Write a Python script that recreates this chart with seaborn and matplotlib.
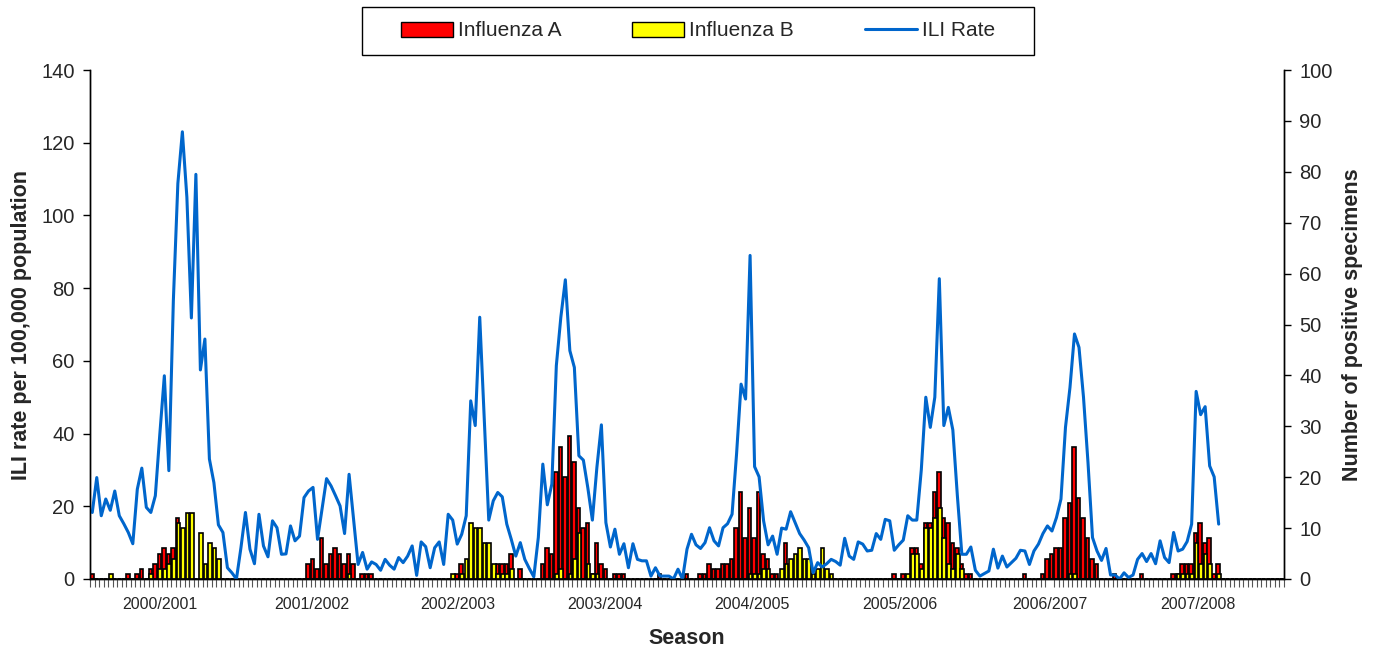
import numpy as np
import matplotlib
matplotlib.use("Agg")
import matplotlib.pyplot as plt
import seaborn as sns
from matplotlib.patches import Patch, Rectangle
from matplotlib.lines import Line2D

seasons = ["2000/2001", "2001/2002", "2002/2003", "2003/2004",
           "2004/2005", "2005/2006", "2006/2007", "2007/2008"]
# week index (0 = first week shown) under which each season name sits
season_label_week = [15.0, 48.8, 81.2, 113.8, 146.4, 179.3, 212.5, 245.4]

# weekly ILI rate per 100,000 (week 40 -> week 20 of each season)
ili_2000_01 = [18.3, 27.9, 17.4, 22.0, 18.9, 24.2, 17.4, 15.2, 12.8, 9.7, 24.7, 30.5, 19.7, 18.3, 22.9, 39.9, 55.9,
               29.8, 76.6, 108.8, 123.0, 105.0, 71.8, 111.3, 57.5, 66.0, 33.0, 26.5, 14.9, 12.8, 3.1, 1.7, 0.0]
ili_2001_02 = [8.6, 18.3, 8.2, 4.2, 17.8, 9.1, 6.1, 16.0, 14.1, 6.8, 6.9, 14.6, 10.5, 11.8, 22.4, 24.2, 25.2,
               10.9, 19.2, 27.6, 25.6, 22.9, 20.1, 12.5, 28.8, 16.4, 4.0, 7.3, 2.7, 4.7, 4.0, 2.4, 5.4]
ili_2002_03 = [3.8, 2.7, 5.9, 4.5, 6.3, 9.1, 1.0, 10.2, 8.9, 3.1, 8.6, 10.2, 4.0, 17.8, 16.2, 9.6, 12.3,
               17.4, 49.0, 42.2, 72.0, 44.0, 16.2, 21.5, 23.8, 22.6, 15.1, 10.9, 6.3, 10.0, 5.4, 2.9, 0.6]
ili_2003_04 = [11.4, 31.6, 20.4, 26.1, 58.7, 72.0, 82.3, 62.8, 58.2, 33.9, 32.7, 25.0, 16.2, 30.7, 42.4, 15.5, 8.8,
               13.7, 6.8, 9.7, 3.1, 9.7, 5.4, 5.0, 5.0, 0.8, 3.1, 0.8, 0.8, 0.8, 0.0, 2.7, 0.0]
ili_2004_05 = [8.2, 12.3, 9.4, 8.4, 10.0, 14.1, 10.5, 9.1, 14.1, 15.2, 17.8, 34.4, 53.6, 49.5, 89.0, 30.9, 28.1,
               16.0, 9.4, 11.8, 6.8, 14.0, 13.7, 18.5, 15.5, 12.5, 10.7, 8.6, 1.7, 4.5, 3.3, 4.2, 5.4, 4.8]
ili_2005_06 = [3.8, 11.2, 6.3, 5.4, 10.2, 9.6, 7.7, 7.9, 12.5, 10.9, 16.4, 16.0, 7.9, 9.4, 10.7, 17.4, 16.2,
               16.2, 30.0, 50.0, 41.7, 50.0, 82.6, 42.2, 47.2, 41.0, 23.0, 6.8, 6.8, 8.8, 2.4, 0.8, 1.5]
ili_2006_07 = [2.2, 8.2, 3.0, 6.3, 3.3, 4.5, 5.7, 7.9, 7.7, 4.0, 7.7, 9.6, 12.5, 14.6, 13.2, 16.9, 22.0,
               41.7, 52.7, 67.4, 63.7, 50.0, 32.0, 11.4, 7.7, 5.1, 8.4, 1.1, 1.1, 0.0, 1.7, 0.4, 1.1]
ili_2007_08 = [5.4, 7.0, 4.8, 7.0, 4.2, 10.5, 5.9, 4.5, 12.8, 7.7, 8.2, 10.3, 15.1, 51.6, 45.2, 47.4, 31.1,
               28.1, 15.1]

# positive specimens, Influenza A
flu_a_2000_01 = [1, 0, 0, 0, 0, 0, 0, 0, 1, 0, 1, 2, 0, 2, 3, 5, 6, 5, 6, 12, 0, 0, 0, 0, 0, 0, 0, 0, 0, 0, 0, 0, 0]
flu_a_2001_02 = [0, 0, 0, 0, 0, 0, 0, 0, 0, 0, 0, 0, 0, 0, 0, 3, 4, 2, 8, 3, 5, 6, 5, 3, 5, 3, 0, 1, 1, 1, 0, 0, 0]
flu_a_2002_03 = [0, 0, 0, 0, 0, 0, 0, 0, 0, 0, 0, 0, 0, 0, 0, 1, 3, 0, 0, 0, 0, 0, 0, 0, 3, 3, 3, 5, 0, 2, 0, 0, 0]
flu_a_2003_04 = [0, 3, 6, 5, 21, 26, 20, 28, 23, 14, 10, 11, 1, 7, 3, 2, 0, 1, 1, 1, 0, 0, 0, 0, 0, 0, 0, 1, 0, 0,
                 0, 0, 0]
flu_a_2004_05 = [1, 0, 0, 1, 1, 3, 2, 2, 3, 3, 4, 10, 17, 8, 14, 8, 17, 5, 4, 1, 1, 0, 7, 0, 0, 0, 0, 0, 0, 0,
                 0, 0, 0, 0]
flu_a_2005_06 = [0, 0, 0, 0, 0, 0, 0, 0, 0, 0, 0, 0, 1, 0, 1, 0, 6, 6, 3, 11, 11, 17, 21, 12, 11, 7, 6, 3, 1, 1,
                 0, 0, 0]
flu_a_2006_07 = [0, 0, 0, 0, 0, 0, 0, 0, 1, 0, 0, 0, 1, 4, 5, 6, 6, 12, 15, 26, 16, 12, 8, 4, 3, 0, 0, 0, 1, 0,
                 0, 0, 0]
flu_a_2007_08 = [0, 1, 0, 0, 0, 0, 0, 0, 1, 1, 3, 3, 3, 9, 11, 7, 8, 1, 3, 0, 0, 0, 0, 0, 0, 0, 0, 0, 0, 0, 0, 0, 0]

# positive specimens, Influenza B
flu_b_2000_01 = [0, 0, 0, 0, 1, 0, 0, 0, 0, 0, 0, 0, 0, 1, 0, 2, 2, 3, 4, 11, 10, 13, 13, 0, 9, 3, 7, 6, 4, 0, 0,
                 0, 0]
flu_b_2001_02 = [0, 0, 0, 0, 0, 0, 0, 0, 0, 0, 0, 0, 0, 0, 0, 0, 0, 0, 0, 0, 0, 0, 0, 0, 1, 0, 0, 0, 0, 0, 0, 0, 0]
flu_b_2002_03 = [0, 0, 0, 0, 0, 0, 0, 0, 0, 0, 0, 0, 0, 0, 1, 0, 1, 4, 11, 10, 10, 7, 7, 3, 1, 1, 1, 2, 0, 0, 0,
                 0, 0]
flu_b_2003_04 = [0, 0, 0, 0, 1, 2, 0, 1, 4, 9, 0, 3, 1, 1, 0, 0, 0, 0, 0, 0, 0, 0, 0, 0, 0, 0, 0, 0, 0, 0, 0, 0, 0]
flu_b_2004_05 = [0, 0, 0, 0, 0, 0, 0, 0, 0, 0, 0, 0, 0, 0, 1, 1, 1, 2, 2, 0, 0, 2, 3, 4, 5, 6, 4, 4, 1, 2, 6, 2,
                 1, 0]
flu_b_2005_06 = [0, 0, 0, 0, 0, 0, 0, 0, 0, 0, 0, 0, 0, 0, 0, 1, 5, 5, 2, 10, 10, 12, 14, 8, 3, 2, 5, 2, 0, 0, 0,
                 0, 0]
flu_b_2006_07 = [0, 0, 0, 0, 0, 0, 0, 0, 0, 0, 0, 0, 0, 0, 0, 0, 0, 0, 1, 1, 0, 0, 0, 0, 0, 0, 0, 0, 0, 0, 0, 0, 0]
flu_b_2007_08 = [0, 0, 0, 0, 0, 0, 0, 0, 0, 1, 1, 1, 1, 7, 3, 5, 3, 0, 1, 0, 0, 0, 0, 0, 0, 0, 0, 0, 0, 0, 0, 0, 0]

ili_rate = [ili_2000_01, ili_2001_02, ili_2002_03, ili_2003_04,
            ili_2004_05, ili_2005_06, ili_2006_07, ili_2007_08]
flu_a = [flu_a_2000_01, flu_a_2001_02, flu_a_2002_03, flu_a_2003_04,
         flu_a_2004_05, flu_a_2005_06, flu_a_2006_07, flu_a_2007_08]
flu_b = [flu_b_2000_01, flu_b_2001_02, flu_b_2002_03, flu_b_2003_04,
         flu_b_2004_05, flu_b_2005_06, flu_b_2006_07, flu_b_2007_08]

n_weeks = sum(len(s) for s in flu_a)
weeks = np.arange(n_weeks)

a_all = np.concatenate(flu_a)
b_all = np.concatenate(flu_b)
ili_all = np.concatenate(ili_rate)
ili_weeks = weeks[:len(ili_all)]

sns.set_style("ticks")
plt.rcParams['font.family'] = ['Liberation Sans', 'DejaVu Sans']

W, H = 1379, 650
fig = plt.figure(figsize=(W / 100, H / 100), dpi=100)
ax1 = fig.add_axes([90 / W, 1 - 579 / H, 1194 / W, 509 / H])
ax2 = ax1.twinx()

# columns (right axis): A behind, B in front, partly overlapped
sns.barplot(x=weeks - 0.1, y=a_all, native_scale=True, width=0.8, color="#FF0000", saturation=1,
            edgecolor="black", linewidth=1.2, errorbar=None, ax=ax2)
sns.barplot(x=weeks + 0.1, y=b_all, native_scale=True, width=0.8, color="#FFFF00", saturation=1,
            edgecolor="black", linewidth=1.2, errorbar=None, ax=ax2)

# ILI line (left axis), drawn on top of the columns
sns.lineplot(x=ili_weeks, y=ili_all, color="#0066CC", linewidth=2.2, errorbar=None, ax=ax1)
ax1.set_zorder(ax2.get_zorder() + 1)
ax1.patch.set_visible(False)

ax1.set_xlim(-0.5, n_weeks - 0.5)
ax1.set_ylim(0, 140)
ax1.set_yticks(range(0, 141, 20))
ax2.set_ylim(0, 100)
ax2.set_yticks(range(0, 101, 10))

ax1.set_xticks(season_label_week)
ax1.set_xticklabels(seasons, fontsize=11.5)
ax1.set_xticks(np.arange(-0.5, n_weeks, 1), minor=True)
ax1.tick_params(axis="x", which="major", length=0, pad=13)
ax1.tick_params(axis="x", which="minor", length=6, width=0.8, color="#555555", direction="out")
ax1.tick_params(axis="y", length=5, width=1, labelsize=14.5, pad=6, color="black")
ax2.tick_params(axis="y", length=5, width=1, labelsize=14.5, pad=6, color="black")

for ax in (ax1, ax2):
    ax.spines["top"].set_visible(False)
    for s in ("left", "right", "bottom"):
        ax.spines[s].set_color("black")
        ax.spines[s].set_linewidth(1)

ax1.set_ylabel("ILI rate per 100,000 population", fontsize=15.5, fontweight="bold")
ax2.set_ylabel("Number of positive specimens", fontsize=15.5, fontweight="bold")
ax1.set_xlabel("Season", fontsize=15.5, fontweight="bold")
ax1.yaxis.set_label_coords(-0.0486, 0.5)
ax2.yaxis.set_label_coords(1.0486, 0.5)
ax1.xaxis.set_label_coords(0.5, -0.096)

handles = [Patch(facecolor="#FF0000", edgecolor="black", linewidth=1),
           Patch(facecolor="#FFFF00", edgecolor="black", linewidth=1),
           Line2D([], [], color="#0066CC", linewidth=2.2)]
fig.legend(handles, ["Influenza A", "Influenza B", "ILI Rate"], loc="center",
           bbox_to_anchor=(698 / W, 1 - 31 / H), ncol=3, frameon=False, fontsize=15,
           handlelength=2.5, handletextpad=0.25, columnspacing=3.4)
fig.patches.append(Rectangle((362 / W, 1 - 55 / H), 672 / W, 48 / H, transform=fig.transFigure,
                             fill=False, edgecolor="black", linewidth=1))

fig.savefig("out.png", dpi=100)
